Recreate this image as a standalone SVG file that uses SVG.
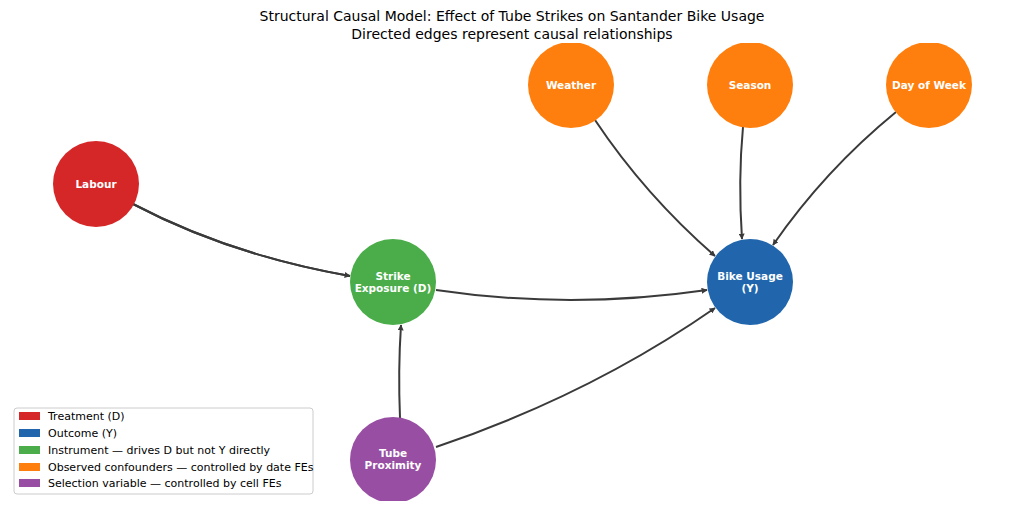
<svg xmlns="http://www.w3.org/2000/svg" width="1024" height="508" viewBox="0 0 1024 508">
<style>
text{font-family:"DejaVu Sans",sans-serif}
.t{font-size:14px;fill:#000;text-anchor:middle}
.n{font-size:10.5px;font-weight:bold;fill:#fff;text-anchor:middle}
.e{fill:none;stroke:#3a3a3a;stroke-width:2}
.l{font-size:11px;fill:#000}
</style>
<defs>
<marker id="a" viewBox="0 0 10 10" refX="9" refY="5" markerWidth="6" markerHeight="6" orient="auto-start-reverse" markerUnits="userSpaceOnUse"><path d="M0,0 L10,5 L0,10 z" fill="#3a3a3a"/></marker>
<clipPath id="c"><rect x="0" y="43" width="1024" height="458"/></clipPath>
</defs>
<rect width="1024" height="508" fill="#fff"/>
<text class="t" x="512" y="21">Structural Causal Model: Effect of Tube Strikes on Santander Bike Usage</text>
<text class="t" x="512" y="39">Directed edges represent causal relationships</text>
<g id="edges">
<path class="e" marker-end="url(#a)" d="M133,204 Q230,255 350,276" style="marker-end:none"/>
<path class="e" d="M133,204 Q230,255 350,276" marker-end="url(#a)"/>
<path class="e" d="M436,290 Q570,310 707,290" marker-end="url(#a)"/>
<path class="e" d="M400,418 Q398,370 401,325" marker-end="url(#a)"/>
<path class="e" d="M436,447 Q590,395 715,308" marker-end="url(#a)"/>
<path class="e" d="M595,120 Q645,195 715,256" marker-end="url(#a)"/>
<path class="e" d="M743,127 Q738,180 742,239" marker-end="url(#a)"/>
<path class="e" d="M896,112 Q825,170 773,245" marker-end="url(#a)"/>
</g>
<g clip-path="url(#c)">
<g id="labour"><circle cx="96" cy="184" r="43" fill="#d62728"/><text class="n" x="96" y="188">Labour</text></g>
<g id="strike"><circle cx="393" cy="282" r="43" fill="#4aad4a"/><text class="n" x="393" y="280">Strike</text><text class="n" x="393" y="292">Exposure (D)</text></g>
<g id="bike"><circle cx="750" cy="282" r="43" fill="#2166ac"/><text class="n" x="750" y="280">Bike Usage</text><text class="n" x="750" y="292">(Y)</text></g>
<g id="weather"><circle cx="571" cy="85" r="43" fill="#ff7f0e"/><text class="n" x="571" y="89">Weather</text></g>
<g id="season"><circle cx="750" cy="85" r="43" fill="#ff7f0e"/><text class="n" x="750" y="89">Season</text></g>
<g id="dow"><circle cx="929" cy="85" r="43" fill="#ff7f0e"/><text class="n" x="929" y="89">Day of Week</text></g>
<g id="tube"><circle cx="393" cy="460" r="43" fill="#984ea3"/><text class="n" x="393" y="457">Tube</text><text class="n" x="393" y="469">Proximity</text></g>
</g>
<g id="legend">
<rect x="14" y="408" width="299" height="86" rx="3" fill="#fff" fill-opacity="0.8" stroke="#ccc"/>
<rect x="19" y="412" width="21" height="8" fill="#d62728"/><text class="l" x="48" y="420">Treatment (D)</text>
<rect x="19" y="429" width="21" height="8" fill="#2166ac"/><text class="l" x="48" y="437">Outcome (Y)</text>
<rect x="19" y="446" width="21" height="8" fill="#4aad4a"/><text class="l" x="48" y="454">Instrument — drives D but not Y directly</text>
<rect x="19" y="463" width="21" height="8" fill="#ff7f0e"/><text class="l" x="48" y="471">Observed confounders — controlled by date FEs</text>
<rect x="19" y="479" width="21" height="8" fill="#984ea3"/><text class="l" x="48" y="487">Selection variable — controlled by cell FEs</text>
</g>
</svg>
